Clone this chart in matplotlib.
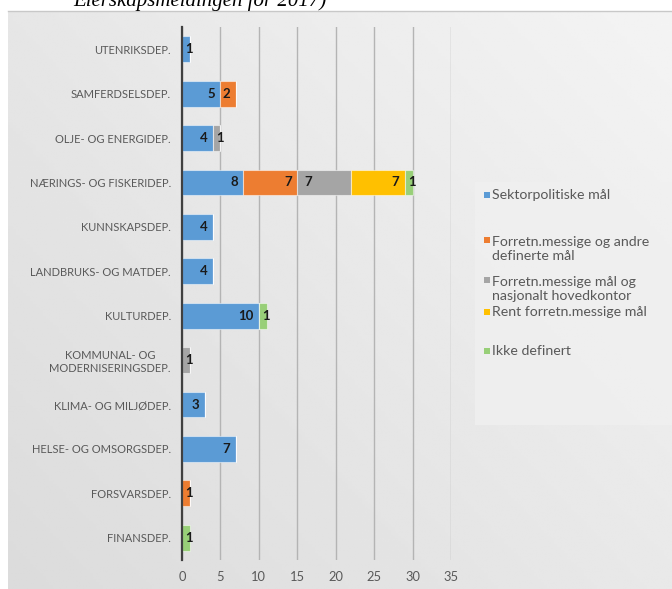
import numpy as np
import matplotlib.pyplot as plt
from matplotlib.patches import Rectangle

# data (leses ovenfra og ned)
departementer = ["UTENRIKSDEP.", "SAMFERDSELSDEP.", "OLJE- OG ENERGIDEP.",
                 "NÆRINGS- OG FISKERIDEP.", "KUNNSKAPSDEP.", "LANDBRUKS- OG MATDEP.",
                 "KULTURDEP.", "KOMMUNAL- OG\nMODERNISERINGSDEP.", "KLIMA- OG MILJØDEP.",
                 "HELSE- OG OMSORGSDEP.", "FORSVARSDEP.", "FINANSDEP."]
sektorpolitiske = [1, 5, 4, 8, 4, 4, 10, 0, 3, 7, 0, 0]
forretn_andre = [0, 2, 0, 7, 0, 0, 0, 0, 0, 0, 1, 0]
forretn_hovedkontor = [0, 0, 1, 7, 0, 0, 0, 1, 0, 0, 0, 0]
rent_forretn = [0, 0, 0, 7, 0, 0, 0, 0, 0, 0, 0, 0]
ikke_definert = [0, 0, 0, 1, 0, 0, 1, 0, 0, 0, 0, 1]

serier = ["Sektorpolitiske mål", "Forretn.messige og andre\ndefinerte mål",
          "Forretn.messige mål og\nnasjonalt hovedkontor", "Rent forretn.messige mål",
          "Ikke definert"]
farger = ["#5b9bd5", "#ed7d31", "#a5a5a5", "#ffc000", "#98cf78"]
verdier = [sektorpolitiske, forretn_andre, forretn_hovedkontor, rent_forretn, ikke_definert]

plt.rcParams['font.family'] = ['Lato', 'DejaVu Sans']

fig = plt.figure(figsize=(6.72, 5.89), dpi=100)

# bakgrunn med gradient
bg = fig.add_axes([8/672, 0, 1 - 8/672, 578/589])
gx, gy = np.meshgrid(np.linspace(0, 1, 200), np.linspace(0, 1, 200))
grad = 0.86 + 0.095 * (0.55 * gx + 0.45 * (1 - gy))
bg.imshow(grad, cmap="gray", vmin=0, vmax=1, aspect="auto", extent=[0, 1, 0, 1])
bg.set_axis_off()
fig.add_artist(plt.Line2D([8/672, 1], [578/589, 578/589], color="#c8c8c8", lw=1))

# tittel (kuttet i toppen, som i originalen)
fig.text(73/672, 1 - 6/589, "Eierskapsmeldingen for 2017)", family="Liberation Serif",
         style="italic", fontsize=15, va="baseline", ha="left", color="black")

ax = fig.add_axes([182/672, 29/589, (451 - 182)/672, (562 - 29)/589])
ax.patch.set_alpha(0)
y = np.arange(len(departementer))
venstre = np.zeros(len(departementer))
for navn, farge, v in zip(serier, farger, verdier):
    v = np.array(v)
    ax.barh(y, v, left=venstre, height=0.58, color=farge, edgecolor="#ffffff80",
            linewidth=0.8, zorder=3)
    for i in range(len(v)):
        if v[i] == 0:
            continue
        if v[i] == 1:
            ax.annotate(str(v[i]), (venstre[i], y[i]), xytext=(2.5, 0), textcoords="offset points",
                        ha="left", va="center", fontsize=9.5, fontweight="bold", color="#1a1a1a", zorder=4)
        elif farge == "#a5a5a5":
            ax.annotate(str(v[i]), (venstre[i], y[i]), xytext=(5, 0), textcoords="offset points",
                        ha="left", va="center", fontsize=9.5, fontweight="bold", color="#1a1a1a", zorder=4)
        else:
            ax.annotate(str(v[i]), (venstre[i] + v[i], y[i]), xytext=(-4, 0), textcoords="offset points",
                        ha="right", va="center", fontsize=9.5, fontweight="bold", color="#1a1a1a", zorder=4)
    venstre = venstre + v

ax.set_xlim(0, 35)
ax.set_ylim(11.5, -0.5)
ax.set_xticks(range(0, 36, 5))
ax.set_yticks(y)
ax.set_yticklabels(departementer, fontsize=8, color="#595959", multialignment="center")
ax.tick_params(axis="y", length=0, pad=8)
ax.tick_params(axis="x", length=0, labelsize=9.3, labelcolor="#595959", pad=8)
ax.grid(axis="x", color="#b4b4b4", lw=1, zorder=0)
for s in ["top", "right", "bottom"]:
    ax.spines[s].set_visible(False)
ax.spines["left"].set_color("#404040")
ax.spines["left"].set_linewidth(1.6)
ax.spines["left"].set_zorder(5)

# legende
fig.add_artist(Rectangle((475/672, 1 - 425/589), 197/672, 243/589, transform=fig.transFigure,
                         facecolor="#f0f0f0", edgecolor="none", alpha=0.8))
leg_y = [195, 249, 289, 312, 351]
for navn, farge, ly in zip(serier, farger, leg_y):
    linjer = navn.count("\n") + 1
    topp = ly - (linjer - 1) * 8.5
    fig.add_artist(Rectangle((484/672, 1 - (topp + 2.5)/589), 6/672, 6/589,
                             transform=fig.transFigure, facecolor=farge, edgecolor="none"))
    fig.text(492/672, 1 - ly/589, navn, fontsize=10.2, color="#595959", va="center", ha="left",
             linespacing=1.25)

plt.savefig("out.png", dpi=100)
